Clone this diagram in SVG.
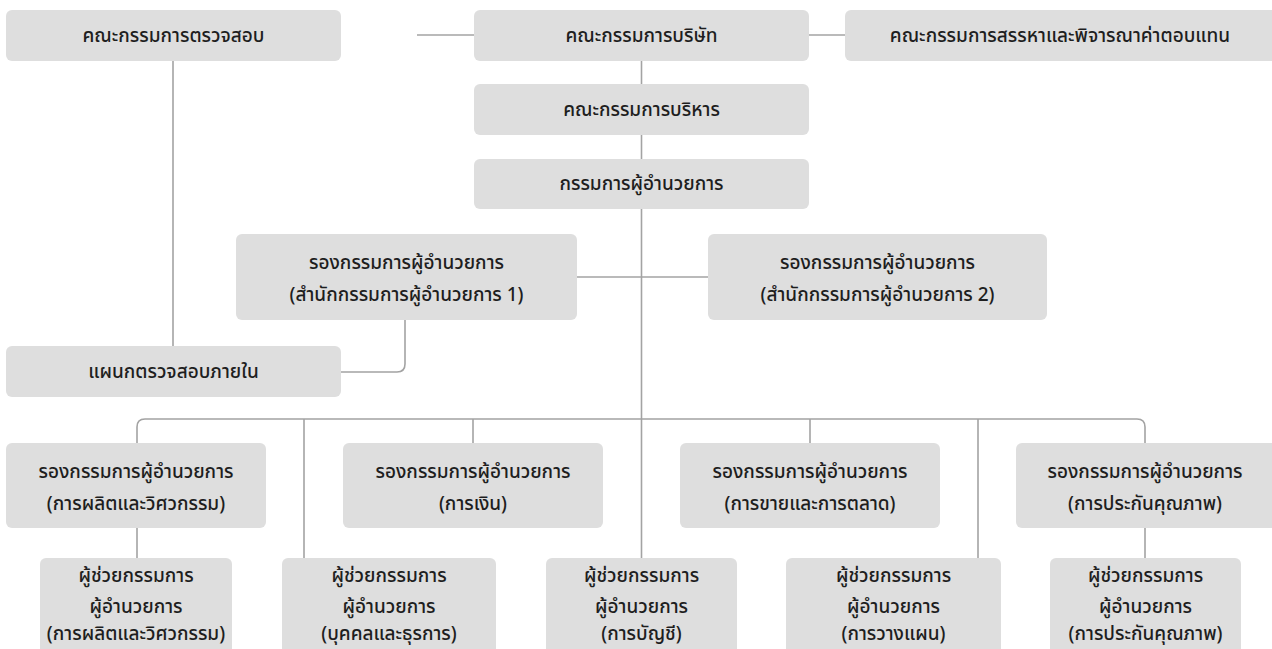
<svg xmlns="http://www.w3.org/2000/svg" width="1272" height="649" viewBox="0 0 1272 649">
<style>
.box{fill:#dedede}
.t{font-family:"Noto Sans Thai","Noto Sans","Liberation Sans",sans-serif;font-size:19px;font-weight:500;fill:#1e1e1e;text-anchor:middle}
.c{fill:none;stroke:#a3a3a3;stroke-width:1.6}
</style>
<rect width="1272" height="649" fill="#ffffff"/>
<g id="connectors" class="c">
<path d="M417,35H474"/>
<path d="M809,35H845"/>
<path d="M641.5,61V84"/>
<path d="M641.5,135V159"/>
<path d="M641.5,209V558"/>
<path d="M173,61V346"/>
<path d="M577,277H708"/>
<path d="M405,320V364Q405,372 397,372H341"/>
<path d="M137,443V427Q137,419 145,419H1137Q1145,419 1145,427V443"/>
<path d="M304,419V558"/>
<path d="M473,419V443"/>
<path d="M810,419V443"/>
<path d="M978,419V558"/>
<path d="M137,528V558"/>
<path d="M1145,528V558"/>
</g>
<g id="audit-committee"><rect class="box" x="6" y="10" width="335" height="51" rx="6"/><text class="t" x="173.5" y="42">คณะกรรมการตรวจสอบ</text></g>
<g id="board"><rect class="box" x="474" y="10" width="335" height="51" rx="6"/><text class="t" x="641.5" y="42">คณะกรรมการบริษัท</text></g>
<g id="remuneration"><rect class="box" x="845" y="10" width="432" height="51" rx="6"/><text class="t" x="1060" y="42">คณะกรรมการสรรหาและพิจารณาค่าตอบแทน</text></g>
<g id="executive"><rect class="box" x="474" y="84" width="335" height="51" rx="6"/><text class="t" x="641.5" y="116">คณะกรรมการบริหาร</text></g>
<g id="md"><rect class="box" x="474" y="159" width="335" height="50" rx="6"/><text class="t" x="641.5" y="190">กรรมการผู้อำนวยการ</text></g>
<g id="deputy-office1"><rect class="box" x="236" y="234" width="341" height="86" rx="6"/><text class="t" x="406.5" y="269">รองกรรมการผู้อำนวยการ</text><text class="t" x="406.5" y="301">(สำนักกรรมการผู้อำนวยการ 1)</text></g>
<g id="deputy-office2"><rect class="box" x="708" y="234" width="339" height="86" rx="6"/><text class="t" x="877.5" y="269">รองกรรมการผู้อำนวยการ</text><text class="t" x="877.5" y="301">(สำนักกรรมการผู้อำนวยการ 2)</text></g>
<g id="internal-audit"><rect class="box" x="6" y="346" width="335" height="51" rx="6"/><text class="t" x="173.5" y="378">แผนกตรวจสอบภายใน</text></g>
<g id="deputy-production"><rect class="box" x="6" y="443" width="260" height="85" rx="6"/><text class="t" x="136" y="478">รองกรรมการผู้อำนวยการ</text><text class="t" x="136" y="510">(การผลิตและวิศวกรรม)</text></g>
<g id="deputy-finance"><rect class="box" x="343" y="443" width="260" height="85" rx="6"/><text class="t" x="473" y="478">รองกรรมการผู้อำนวยการ</text><text class="t" x="473" y="510">(การเงิน)</text></g>
<g id="deputy-sales"><rect class="box" x="680" y="443" width="260" height="85" rx="6"/><text class="t" x="810" y="478">รองกรรมการผู้อำนวยการ</text><text class="t" x="810" y="510">(การขายและการตลาด)</text></g>
<g id="deputy-qa"><rect class="box" x="1016" y="443" width="262" height="85" rx="6"/><text class="t" x="1145" y="478">รองกรรมการผู้อำนวยการ</text><text class="t" x="1145" y="510">(การประกันคุณภาพ)</text></g>
<g id="asst-production"><rect class="box" x="40" y="558" width="192" height="100" rx="6"/><text class="t" x="136" y="582">ผู้ช่วยกรรมการ</text><text class="t" x="136" y="613">ผู้อำนวยการ</text><text class="t" x="136" y="640">(การผลิตและวิศวกรรม)</text></g>
<g id="asst-hr"><rect class="box" x="282" y="558" width="214" height="100" rx="6"/><text class="t" x="389" y="582">ผู้ช่วยกรรมการ</text><text class="t" x="389" y="613">ผู้อำนวยการ</text><text class="t" x="389" y="640">(บุคคลและธุรการ)</text></g>
<g id="asst-accounting"><rect class="box" x="546" y="558" width="191" height="100" rx="6"/><text class="t" x="641.5" y="582">ผู้ช่วยกรรมการ</text><text class="t" x="641.5" y="613">ผู้อำนวยการ</text><text class="t" x="641.5" y="640">(การบัญชี)</text></g>
<g id="asst-planning"><rect class="box" x="786" y="558" width="215" height="100" rx="6"/><text class="t" x="893.5" y="582">ผู้ช่วยกรรมการ</text><text class="t" x="893.5" y="613">ผู้อำนวยการ</text><text class="t" x="893.5" y="640">(การวางแผน)</text></g>
<g id="asst-qa"><rect class="box" x="1050" y="558" width="191" height="100" rx="6"/><text class="t" x="1145.5" y="582">ผู้ช่วยกรรมการ</text><text class="t" x="1145.5" y="613">ผู้อำนวยการ</text><text class="t" x="1145.5" y="640">(การประกันคุณภาพ)</text></g>
</svg>
